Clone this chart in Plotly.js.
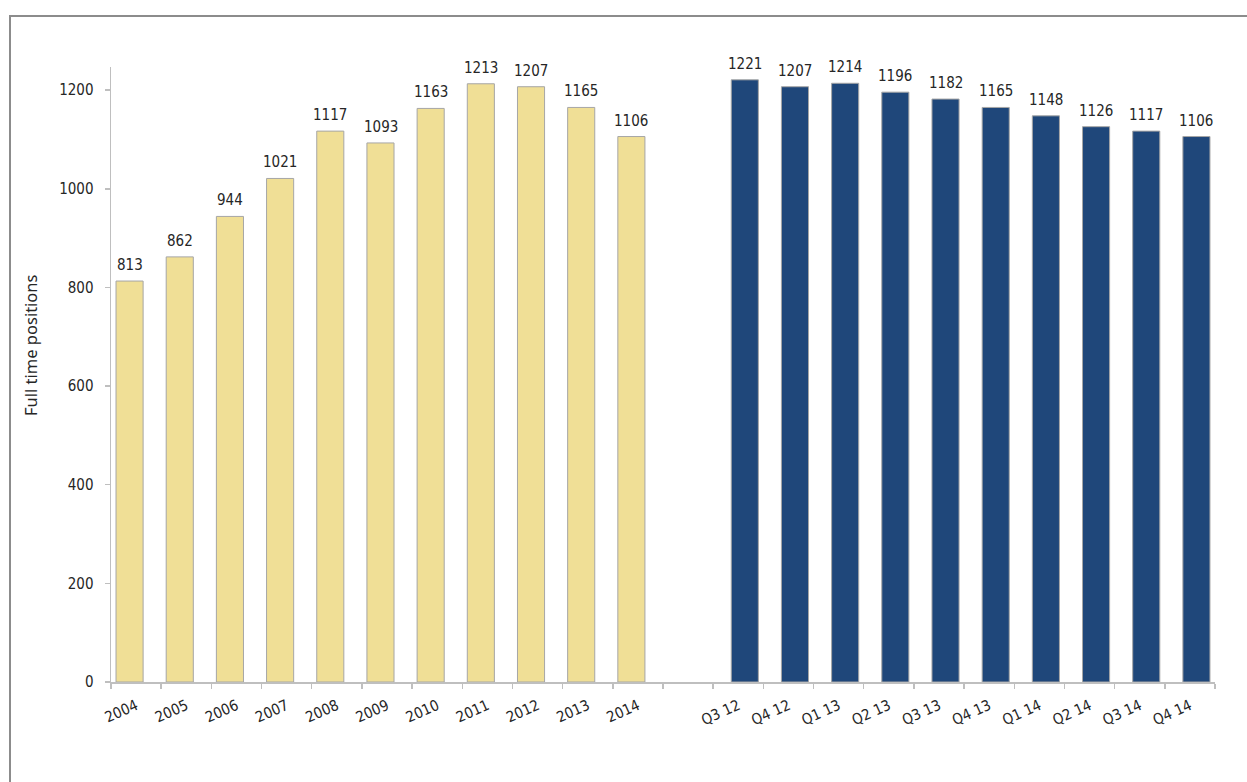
<!DOCTYPE html>
<html>
<head>
<meta charset="utf-8">
<script src="https://cdn.plot.ly/plotly-3.0.1.min.js"></script>
<style>
  html, body { margin: 0; padding: 0; background: #fff; }
  #wrap { position: relative; width: 1247px; height: 782px; overflow: hidden; }
  #chart { position: absolute; left: 0; top: 0; width: 1247px; height: 782px; }
  #frame { position: absolute; left: 9px; top: 15px; width: 1300px; height: 900px;
           border-top: 2px solid #8c8c8c; border-left: 2px solid #8c8c8c; pointer-events: none; }
</style>
</head>
<body>
<div id="wrap">
  <div id="chart"></div>
  <div id="frame"></div>
</div>
<script>
// Annual values
const years = ["2004","2005","2006","2007","2008","2009","2010","2011","2012","2013","2014"];
const yearValues = [813, 862, 944, 1021, 1117, 1093, 1163, 1213, 1207, 1165, 1106];
// Quarterly values
const quarters = ["Q3 12","Q4 12","Q1 13","Q2 13","Q3 13","Q4 13","Q1 14","Q2 14","Q3 14","Q4 14"];
const quarterValues = [1221, 1207, 1214, 1196, 1182, 1165, 1148, 1126, 1117, 1106];
const gapLabel = " ";
const yTitle = "Full time positions";

const allCats = years.concat([gapLabel], quarters);

const labelFont = {family: "DejaVu Sans Condensed, DejaVu Sans, sans-serif", size: 15, color: "#262626"};
const outline = {color: "#a6a6a6", width: 1};

const traceYears = {
  type: "bar",
  x: years,
  y: yearValues,
  width: 0.54,
  offset: -0.40,
  marker: {color: "#f0df96", line: outline},
  hoverinfo: "x+y",
  showlegend: false
};
const traceQuarters = {
  type: "bar",
  x: [gapLabel].concat(quarters),
  y: [null].concat(quarterValues),
  width: 0.54,
  offset: -0.14,
  marker: {color: "#1f477a", line: outline},
  hoverinfo: "x+y",
  showlegend: false
};

const annotations = [];
years.forEach((c, i) => annotations.push({
  x: allCats.indexOf(c), y: yearValues[i], xref: "x", yref: "y", text: String(yearValues[i]),
  showarrow: false, yanchor: "bottom", xanchor: "center", xshift: -6.5, yshift: 5,
  font: labelFont
}));
quarters.forEach((c, i) => annotations.push({
  x: allCats.indexOf(c), y: quarterValues[i], xref: "x", yref: "y", text: String(quarterValues[i]),
  showarrow: false, yanchor: "bottom", xanchor: "center", xshift: 6.5, yshift: 5,
  font: labelFont
}));
// y axis title
annotations.push({
  text: yTitle, xref: "paper", yref: "paper",
  x: -0.0725, y: 0.548, xanchor: "center", yanchor: "middle", textangle: -90,
  showarrow: false,
  font: {family: "Noto Sans, Open Sans, sans-serif", size: 16.5, color: "#262626"}
});

const layout = {
  width: 1247, height: 782,
  margin: {l: 111, r: 32, t: 67, b: 100},
  paper_bgcolor: "rgba(0,0,0,0)",
  plot_bgcolor: "rgba(0,0,0,0)",
  barmode: "overlay",
  xaxis: {
    type: "category",
    categoryorder: "array",
    categoryarray: allCats,
    range: [-0.5, allCats.length - 0.5],
    tickson: "boundaries",
    ticks: "outside", ticklen: 5, tickcolor: "#bfbfbf", tickwidth: 1.5,
    ticklabelstandoff: 8,
    showline: true, linecolor: "#bfbfbf", linewidth: 1.5,
    showgrid: false, zeroline: false,
    tickangle: -24,
    tickfont: labelFont,
    fixedrange: true
  },
  yaxis: {
    range: [0, 1247],
    tickvals: [0, 200, 400, 600, 800, 1000, 1200],
    ticks: "outside", ticklen: 5, tickcolor: "#bfbfbf", tickwidth: 1.5,
    ticklabelstandoff: 8,
    showline: true, linecolor: "#bfbfbf", linewidth: 1.5,
    showgrid: false, zeroline: false,
    tickfont: labelFont,
    fixedrange: true
  },
  annotations: annotations
};

Plotly.newPlot("chart", [traceYears, traceQuarters], layout, {displayModeBar: false, staticPlot: true});
</script>
</body>
</html>
